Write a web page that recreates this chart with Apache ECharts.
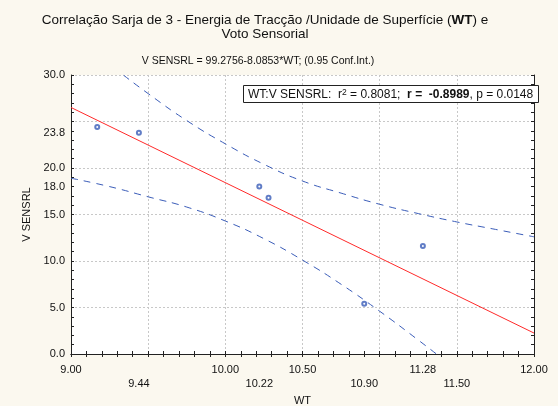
<!DOCTYPE html>
<html>
<head>
<meta charset="utf-8">
<script src="https://cdn.jsdelivr.net/npm/echarts@6/dist/echarts.min.js"></script>
<style>
  html, body { margin: 0; padding: 0; background: #fbf8ef; }
  #chart { width: 558px; height: 406px; }
</style>
</head>
<body>
<div id="chart"></div>
<script>
// Observations: WT (traction energy per unit surface) vs sensory vote
const wtValues = [9.17, 9.44, 10.22, 10.28, 10.90, 11.28];
const vsValues = [24.4, 23.8, 18.0, 16.8, 5.4, 11.6];

// Fitted line: V SENSRL = intercept + slope * WT
const fitIntercept = 99.2756;
const fitSlope = -8.0853;

// 0.95 confidence band, sampled along WT
const bandX     = [9.0, 9.25, 9.5, 9.75, 10.0, 10.25, 10.5, 10.75, 11.0, 11.25, 11.5, 11.75, 12.0];
const bandUpper = [34.1, 31.1, 28.0, 25.1, 22.6, 20.4, 18.6, 17.3, 16.1, 15.1, 14.2, 13.4, 12.6];
const bandLower = [18.9, 18.0, 16.9, 15.8, 14.3, 12.4, 10.1, 7.5, 4.6, 1.5, -1.7, -4.9, -8.1];

// Tick labels
const xTickLabels = [9.00, 9.44, 10.00, 10.22, 10.50, 10.90, 11.28, 11.50, 12.00];
const xLowerRow   = [9.44, 10.22, 10.90, 11.50];
const yTickLabels = [0.0, 5.0, 10.0, 15.0, 18.0, 20.0, 23.8, 30.0];

// Correlation statistics
const statR2 = '0.8081';
const statR = '-0.8989';
const statP = '0.0148';

const FONT = 'Liberation Sans, Arial, sans-serif';
const xMin = 9, xMax = 12, yMin = 0, yMax = 30;

const chart = echarts.init(document.getElementById('chart'), null, { renderer: 'canvas' });

const axisLine = { show: true, lineStyle: { color: '#222', width: 1 } };
const tick = { show: true, inside: true, length: 3, lineStyle: { color: '#222' } };
const minor = { show: true, splitNumber: 5, length: 3, lineStyle: { color: '#222' } };
const grid = { show: true, lineStyle: { color: '#c8c8c8', type: [2, 2], width: 1 } };

chart.setOption({
  backgroundColor: '#fbf8ef',
  animation: false,
  title: [
    {
      text: 'Correlação Sarja de 3 - Energia de Tracção /Unidade de Superfície ({b|WT}) e\nVoto Sensorial',
      left: 260, top: 8, textAlign: 'center',
      textStyle: {
        fontFamily: FONT, fontSize: 13.5, fontWeight: 'normal', color: '#111', lineHeight: 14,
        rich: { b: { fontFamily: FONT, fontSize: 13.5, fontWeight: 'bold', color: '#111', lineHeight: 14 } }
      }
    },
    {
      text: 'V SENSRL = ' + fitIntercept.toFixed(4) + fitSlope.toFixed(4) + '*WT; (0.95 Conf.Int.)',
      left: 253, top: 51, textAlign: 'center',
      textStyle: { fontFamily: FONT, fontSize: 10.5, fontWeight: 'normal', color: '#111' }
    },
    {
      text: 'WT:V SENSRL:  r{sup|2} = ' + statR2 + ';  {b|r =  ' + statR + '}, p = ' + statP,
      left: 243, top: 86,
      padding: [3, 6, 2, 5],
      backgroundColor: '#ffffff', borderColor: '#222', borderWidth: 1,
      textStyle: {
        fontFamily: FONT, fontSize: 12, fontWeight: 'normal', color: '#111', lineHeight: 12,
        rich: {
          sup: { fontFamily: FONT, fontSize: 8.5, color: '#111', padding: [0, 0, 5, 0] },
          b: { fontFamily: FONT, fontSize: 12, fontWeight: 'bold', color: '#111' }
        }
      }
    }
  ],
  grid: {
    left: 71, right: 24, top: 75, bottom: 52,
    outerBoundsMode: 'none', containLabel: false,
    show: true, backgroundColor: '#ffffff', borderWidth: 0
  },
  xAxis: [
    {
      type: 'value', min: xMin, max: xMax, interval: 0.5, position: 'bottom',
      name: 'WT', nameLocation: 'middle', nameGap: 35,
      nameTextStyle: { fontFamily: FONT, fontSize: 11, color: '#111' },
      axisLine: axisLine, axisTick: tick, minorTick: minor, splitLine: grid,
      axisLabel: {
        customValues: xTickLabels, margin: 9,
        fontFamily: FONT, fontSize: 11, color: '#111', lineHeight: 14,
        formatter: v => (xLowerRow.some(u => Math.abs(u - v) < 1e-6) ? '\n' : '') + v.toFixed(2)
      }
    },
    {
      type: 'value', min: xMin, max: xMax, interval: 0.5, position: 'top',
      axisLine: axisLine, axisTick: tick, minorTick: minor,
      splitLine: { show: false }, axisLabel: { show: false }
    }
  ],
  yAxis: [
    {
      type: 'value', min: yMin, max: yMax, interval: 5, position: 'left',
      name: 'V SENSRL', nameLocation: 'middle', nameGap: 38,
      nameTextStyle: { fontFamily: FONT, fontSize: 11, color: '#111' },
      axisLine: axisLine, axisTick: tick, minorTick: minor, splitLine: grid,
      axisLabel: {
        customValues: yTickLabels, margin: 6,
        fontFamily: FONT, fontSize: 11, color: '#111',
        formatter: v => v.toFixed(1)
      }
    },
    {
      type: 'value', min: yMin, max: yMax, interval: 5, position: 'right',
      axisLine: axisLine, axisTick: tick, minorTick: minor,
      splitLine: { show: false }, axisLabel: { show: false }
    }
  ],
  series: [
    {
      name: 'upper', type: 'line', smooth: true, symbol: 'none', clip: true,
      data: bandX.map((x, i) => [x, bandUpper[i]]),
      lineStyle: { color: '#3a5cb8', width: 1, type: [7, 6] }, z: 3
    },
    {
      name: 'lower', type: 'line', smooth: true, symbol: 'none', clip: true,
      data: bandX.map((x, i) => [x, bandLower[i]]),
      lineStyle: { color: '#3a5cb8', width: 1, type: [7, 6] }, z: 3
    },
    {
      name: 'fit', type: 'line', symbol: 'none', clip: true,
      data: [[xMin, fitIntercept + fitSlope * xMin], [xMax, fitIntercept + fitSlope * xMax]],
      lineStyle: { color: '#ff2a2a', width: 1 }, z: 4
    },
    {
      name: 'obs', type: 'scatter', symbol: 'emptyCircle', symbolSize: 4,
      data: wtValues.map((x, i) => [x, vsValues[i]]),
      itemStyle: { color: '#3a5cb8', borderWidth: 1 }, z: 5
    }
  ]
});
</script>
</body>
</html>
